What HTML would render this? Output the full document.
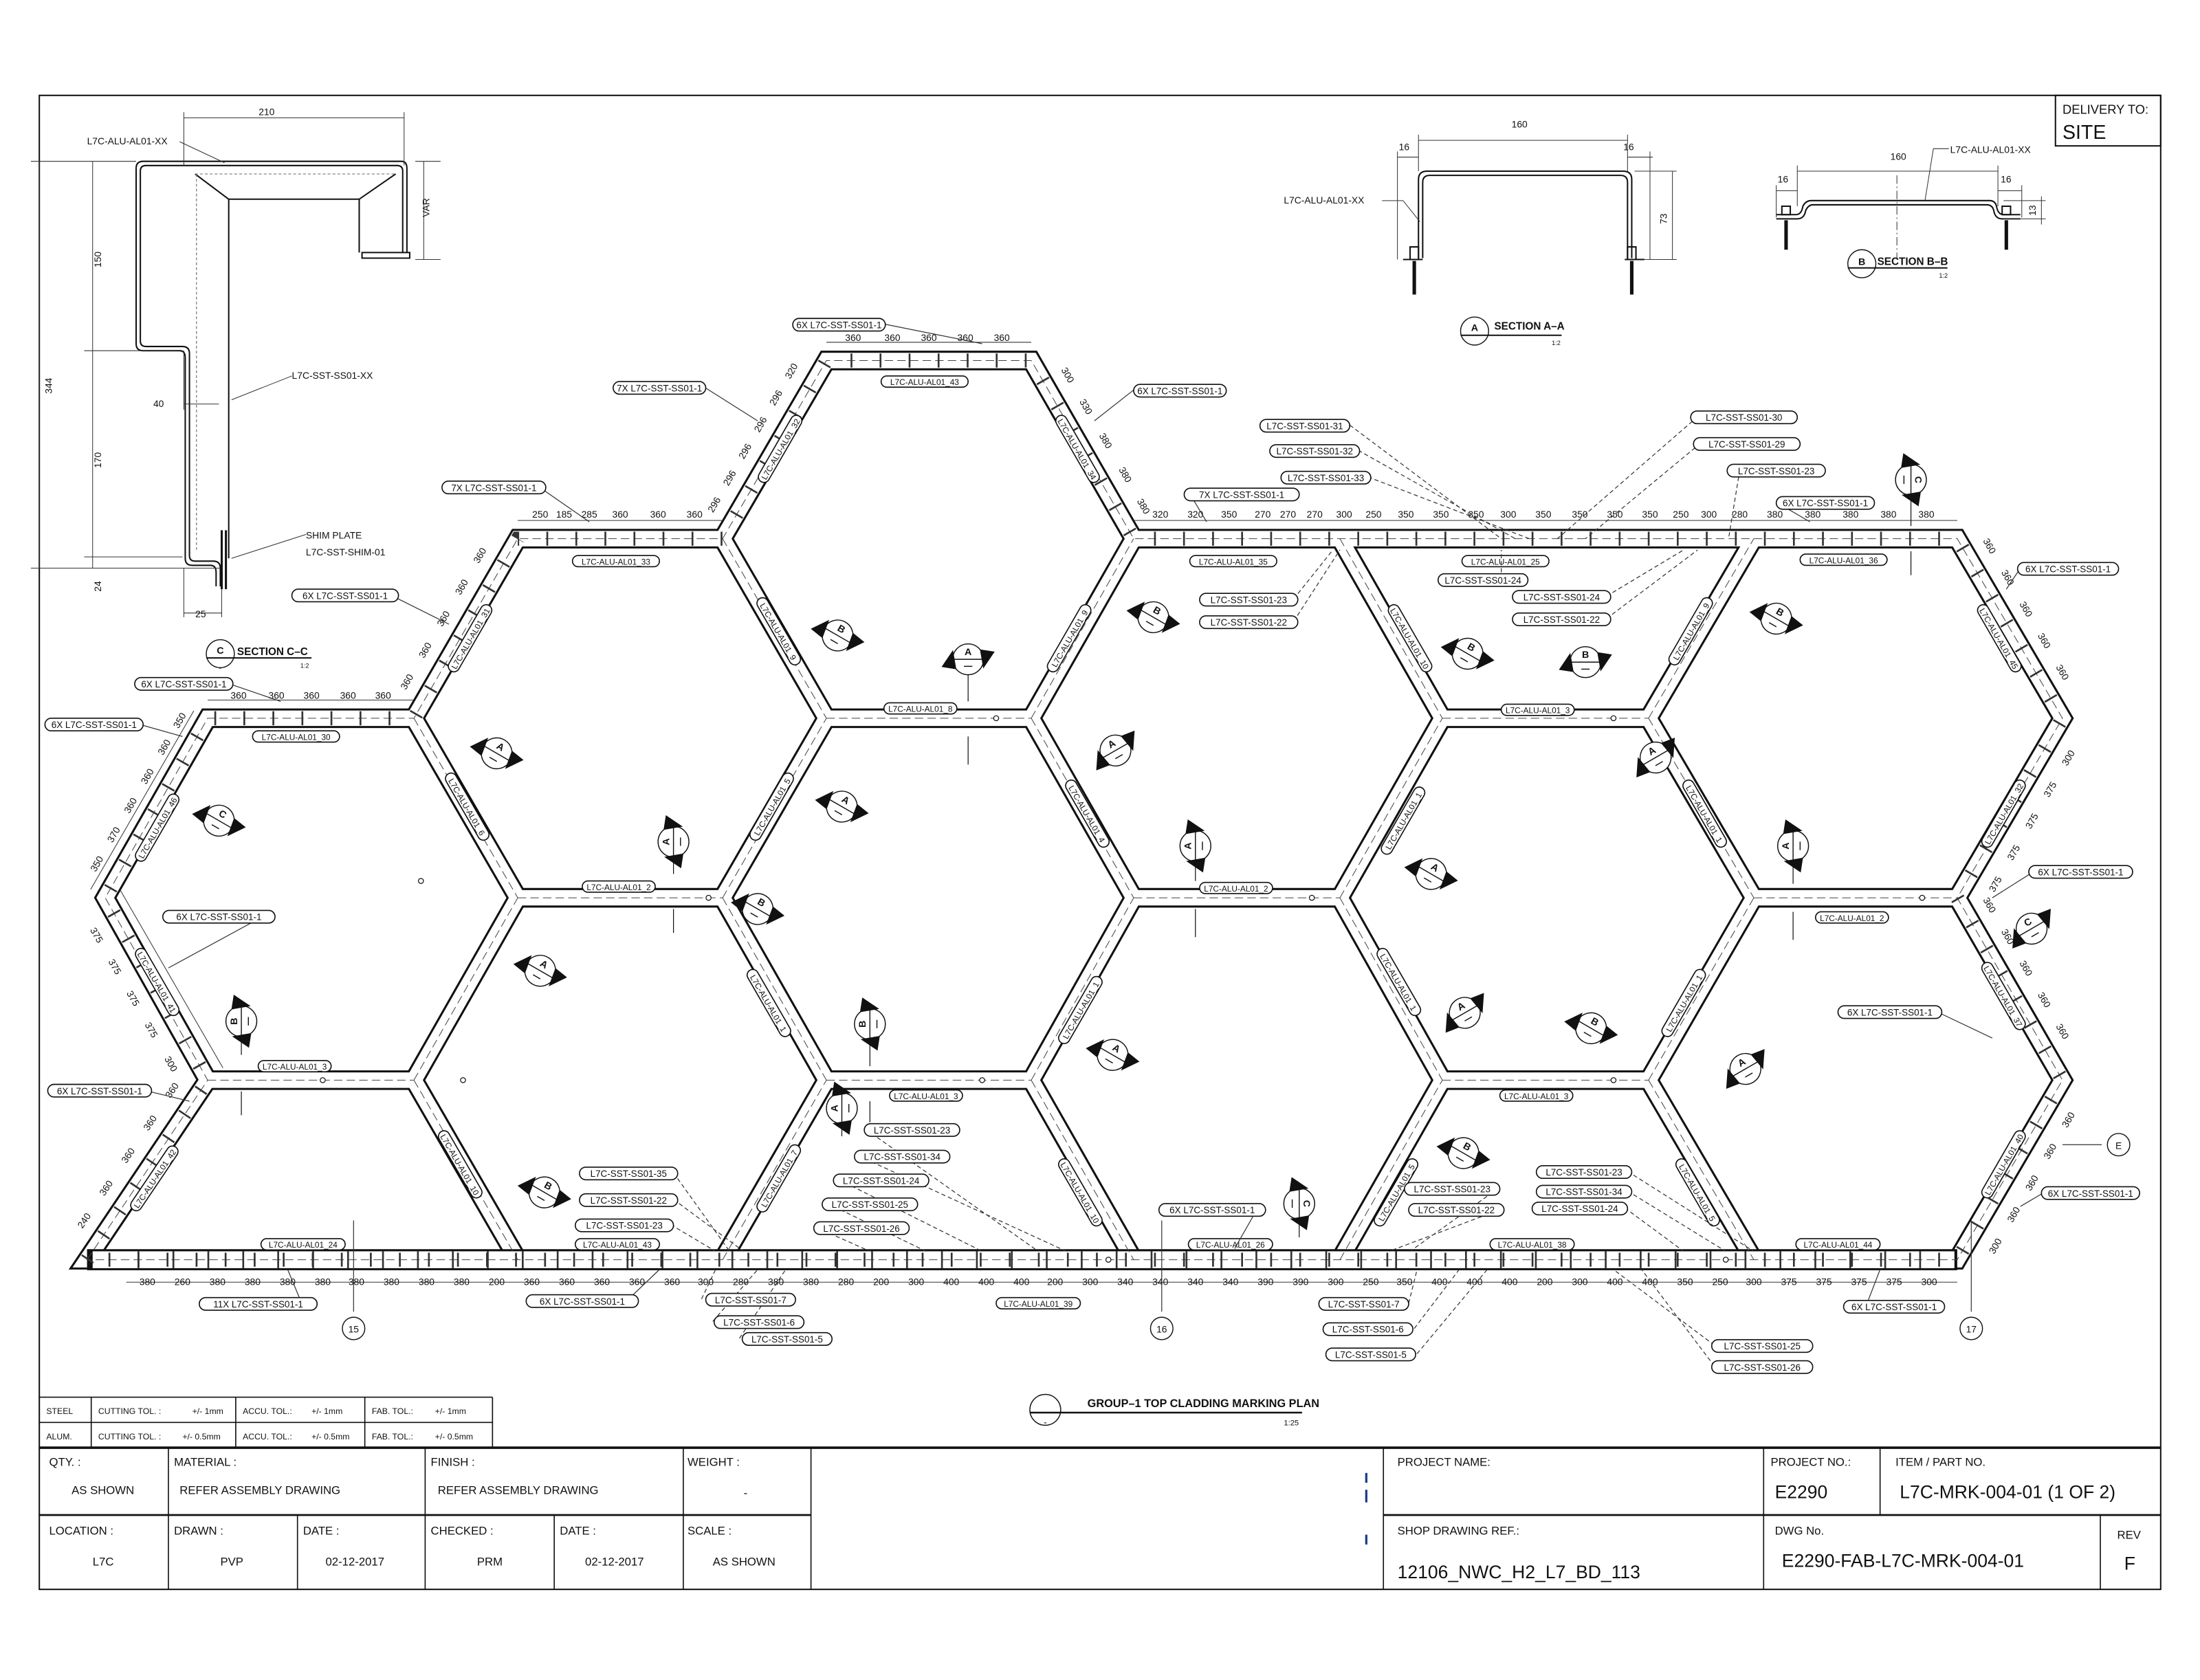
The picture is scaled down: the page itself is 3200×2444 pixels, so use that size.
<!DOCTYPE html>
<html><head><meta charset="utf-8"><style>
html,body{margin:0;padding:0;background:#fff}
svg{display:block}
text{font-family:"Liberation Sans",sans-serif;fill:#111}
.p{fill:#fff;stroke:#111;stroke-width:.8}
.t{font-size:6.6px}
.m{font-size:5.8px}
.d{font-size:6.8px}
.tb{font-size:8.2px}
.big{font-size:13px}
.ln{stroke:#111;fill:none}
.ld{stroke:#333;stroke-width:.6;fill:none;stroke-dasharray:3 2}
</style></head><body>
<svg width="3200" height="2444" viewBox="0 0 1568 1197.6" xmlns="http://www.w3.org/2000/svg">
<rect x="0" y="0" width="1568" height="1198" fill="#fff"/>
<rect x="28" y="68" width="1512" height="1065" fill="none" stroke="#111" stroke-width="1"/>
<rect x="1465" y="68" width="75" height="36" fill="none" stroke="#111" stroke-width="1"/>
<text x="1470" y="81" style="font-size:9px">DELIVERY TO:</text>
<text x="1470" y="99" style="font-size:14px">SITE</text>

<g id="net">
<path id="outer" d="M62,898 L148,770 L75,640 L148,512 L295,512 L369,384 L515,384 L589,257 L735,257 L808,384 L1395,384 L1470,512 L1395,640 L1470,770 L1395,898 Z" fill="none" stroke-linejoin="miter"/>
<path id="inner" d="M148,770 H295 M295,512 L369,640 M295,770 L369,640 M295,770 L369,898 M369,640 H515 M515,384 L589,512 M515,640 L589,512 M515,640 L589,770 M515,898 L589,770 M589,512 H735 M589,770 H735 M735,512 L808,384 M735,512 L808,640 M735,770 L808,640 M735,770 L808,898 M808,640 H955 M955,384 L1028,512 M955,640 L1028,512 M955,640 L1028,770 M955,898 L1028,770 M1028,512 H1175 M1028,770 H1175 M1175,512 L1250,384 M1175,512 L1250,640 M1175,770 L1250,640 M1175,770 L1250,898 M1250,640 H1395" fill="none"/>
</g>
<use href="#outer" stroke="#111" stroke-width="14"/>
<use href="#inner" stroke="#111" stroke-width="14"/>
<use href="#outer" stroke="#fff" stroke-width="11"/>
<use href="#inner" stroke="#fff" stroke-width="11"/>
<path d="M62,898 H1395" stroke="#111" stroke-width="15"/>
<path d="M66,898 H1393" stroke="#fff" stroke-width="12"/>
<use href="#outer" stroke="#444" stroke-width="0.5" stroke-dasharray="6 3" fill="none"/>
<use href="#inner" stroke="#444" stroke-width="0.5" stroke-dasharray="6 3" fill="none"/>
<use href="#outer" stroke="#333" stroke-width="10" stroke-dasharray="1.3 19.4" fill="none"/>
<path d="M98,898 H1392" stroke="#333" stroke-width="12" stroke-dasharray="1.3 23.6" fill="none"/>
<g fill="#fff" stroke="#111" stroke-width=".6">
<circle cx="230" cy="770" r="1.8"/><circle cx="505" cy="640" r="1.8"/><circle cx="710" cy="512" r="1.8"/><circle cx="935" cy="640" r="1.8"/><circle cx="1150" cy="512" r="1.8"/><circle cx="1370" cy="640" r="1.8"/><circle cx="700" cy="770" r="1.8"/><circle cx="1150" cy="770" r="1.8"/><circle cx="1230" cy="898" r="1.8"/><circle cx="790" cy="898" r="1.8"/><circle cx="330" cy="770" r="1.8"/><circle cx="300" cy="628" r="1.8"/>
</g>

<g stroke="#333" stroke-width=".5" fill="none">
<path d="M90,914 H1395"/>
<path d="M148,499 H295 M369,371 H515 M589,244 H735 M808,371 H1395"/>
</g>

<g class="d" text-anchor="middle">
<text x="385" y="369">250</text><text x="402" y="369">185</text><text x="420" y="369">285</text><text x="442" y="369">360</text><text x="469" y="369">360</text><text x="495" y="369">360</text>
<text x="608" y="243">360</text><text x="636" y="243">360</text><text x="662" y="243">360</text><text x="688" y="243">360</text><text x="714" y="243">360</text>
<text x="170" y="498">360</text><text x="197" y="498">360</text><text x="222" y="498">360</text><text x="248" y="498">360</text><text x="273" y="498">360</text>
<text x="827" y="369">320</text><text x="852" y="369">320</text><text x="876" y="369">350</text><text x="900" y="369">270</text><text x="918" y="369">270</text><text x="937" y="369">270</text><text x="958" y="369">300</text><text x="979" y="369">250</text><text x="1002" y="369">350</text><text x="1027" y="369">350</text><text x="1052" y="369">350</text><text x="1075" y="369">300</text><text x="1100" y="369">350</text><text x="1126" y="369">350</text><text x="1151" y="369">350</text><text x="1176" y="369">350</text><text x="1198" y="369">250</text><text x="1218" y="369">300</text><text x="1240" y="369">280</text><text x="1265" y="369">380</text><text x="1292" y="369">380</text><text x="1319" y="369">380</text><text x="1346" y="369">380</text><text x="1373" y="369">380</text>
</g>
<g class="d" text-anchor="middle">
<text x="105" y="916">380</text><text x="130" y="916">260</text><text x="155" y="916">380</text><text x="180" y="916">380</text><text x="205" y="916">380</text><text x="230" y="916">380</text><text x="254" y="916">380</text><text x="279" y="916">380</text><text x="304" y="916">380</text><text x="329" y="916">380</text><text x="354" y="916">200</text><text x="379" y="916">360</text><text x="404" y="916">360</text><text x="429" y="916">360</text><text x="454" y="916">360</text><text x="479" y="916">360</text><text x="503" y="916">300</text><text x="528" y="916">280</text><text x="553" y="916">380</text><text x="578" y="916">380</text><text x="603" y="916">280</text><text x="628" y="916">200</text><text x="653" y="916">300</text><text x="678" y="916">400</text><text x="703" y="916">400</text><text x="728" y="916">400</text><text x="752" y="916">200</text><text x="777" y="916">300</text><text x="802" y="916">340</text><text x="827" y="916">340</text><text x="852" y="916">340</text><text x="877" y="916">340</text><text x="902" y="916">390</text><text x="927" y="916">390</text><text x="952" y="916">300</text><text x="977" y="916">250</text><text x="1001" y="916">350</text><text x="1026" y="916">400</text><text x="1051" y="916">400</text><text x="1076" y="916">400</text><text x="1101" y="916">200</text><text x="1126" y="916">300</text><text x="1151" y="916">400</text><text x="1176" y="916">400</text><text x="1201" y="916">350</text><text x="1226" y="916">250</text><text x="1250" y="916">300</text><text x="1275" y="916">375</text><text x="1300" y="916">375</text><text x="1325" y="916">375</text><text x="1350" y="916">375</text><text x="1375" y="916">300</text>
</g>
<g class="d" text-anchor="middle">
<g transform="translate(75,640) rotate(-60)"><line x1="0" y1="-12" x2="147" y2="-12" stroke="#333" stroke-width=".5"/><text x="18" y="-15">350</text><text x="42" y="-15">370</text><text x="66" y="-15">360</text><text x="90" y="-15">360</text><text x="114" y="-15">360</text><text x="136" y="-15">350</text></g>
<g transform="translate(75,640) rotate(60)"><line x1="0" y1="-12" x2="147" y2="-12" stroke="#333" stroke-width=".5"/><text x="20" y="21">375</text><text x="46" y="21">375</text><text x="72" y="21">375</text><text x="98" y="21">375</text><text x="126" y="21">300</text></g>
<g transform="translate(62,898) rotate(-56)"><text x="22" y="-15">240</text><text x="50" y="-15">360</text><text x="78" y="-15">360</text><text x="106" y="-15">360</text><text x="134" y="-15">360</text></g>
<g transform="translate(295,512) rotate(-60)"><text x="20" y="-15">360</text><text x="46" y="-15">360</text><text x="72" y="-15">360</text><text x="98" y="-15">360</text><text x="124" y="-15">360</text></g>
<g transform="translate(515,384) rotate(-60)"><text x="18" y="-15">296</text><text x="40" y="-15">296</text><text x="62" y="-15">296</text><text x="84" y="-15">296</text><text x="106" y="-15">296</text><text x="128" y="-15">320</text></g>
<g transform="translate(735,257) rotate(60)"><text x="22" y="-15">300</text><text x="48" y="-15">330</text><text x="76" y="-15">380</text><text x="104" y="-15">380</text><text x="130" y="-15">380</text></g>
<g transform="translate(1395,384) rotate(60)"><text x="16" y="-15">360</text><text x="42" y="-15">360</text><text x="68" y="-15">360</text><text x="94" y="-15">360</text><text x="120" y="-15">360</text></g>
<g transform="translate(1395,640) rotate(-60)"><text x="22" y="21">375</text><text x="48" y="21">375</text><text x="74" y="21">375</text><text x="100" y="21">375</text><text x="126" y="21">300</text></g>
<g transform="translate(1395,640) rotate(60)"><text x="16" y="-15">360</text><text x="42" y="-15">360</text><text x="68" y="-15">360</text><text x="94" y="-15">360</text><text x="120" y="-15">360</text></g>
<g transform="translate(1395,898) rotate(-60)"><text x="22" y="21">300</text><text x="48" y="21">360</text><text x="74" y="21">360</text><text x="100" y="21">360</text><text x="126" y="21">360</text></g>
</g>

<g class="m" text-anchor="middle">
<g><rect class="p" x="628" y="268" width="62" height="8" rx="4"/><text x="659" y="274.5">L7C-ALU-AL01_43</text></g>
<g><rect class="p" x="408" y="396" width="62" height="8" rx="4"/><text x="439" y="402.5">L7C-ALU-AL01_33</text></g>
<g><rect class="p" x="848" y="396" width="62" height="8" rx="4"/><text x="879" y="402.5">L7C-ALU-AL01_35</text></g>
<g><rect class="p" x="1042" y="396" width="62" height="8" rx="4"/><text x="1073" y="402.5">L7C-ALU-AL01_25</text></g>
<g><rect class="p" x="1283" y="395" width="62" height="8" rx="4"/><text x="1314" y="401.5">L7C-ALU-AL01_36</text></g>
<g><rect class="p" x="180" y="521" width="62" height="8" rx="4"/><text x="211" y="527.5">L7C-ALU-AL01_30</text></g>
<g><rect class="p" x="630" y="501" width="52" height="8" rx="4"/><text x="656" y="507.5">L7C-ALU-AL01_8</text></g>
<g><rect class="p" x="1070" y="502" width="52" height="8" rx="4"/><text x="1096" y="508.5">L7C-ALU-AL01_3</text></g>
<g><rect class="p" x="415" y="628" width="52" height="8" rx="4"/><text x="441" y="634.5">L7C-ALU-AL01_2</text></g>
<g><rect class="p" x="855" y="629" width="52" height="8" rx="4"/><text x="881" y="635.5">L7C-ALU-AL01_2</text></g>
<g><rect class="p" x="1294" y="650" width="52" height="8" rx="4"/><text x="1320" y="656.5">L7C-ALU-AL01_2</text></g>
<g><rect class="p" x="184" y="756" width="52" height="8" rx="4"/><text x="210" y="762.5">L7C-ALU-AL01_3</text></g>
<g><rect class="p" x="634" y="777" width="52" height="8" rx="4"/><text x="660" y="783.5">L7C-ALU-AL01_3</text></g>
<g><rect class="p" x="1069" y="777" width="52" height="8" rx="4"/><text x="1095" y="783.5">L7C-ALU-AL01_3</text></g>
<g><rect class="p" x="186" y="883" width="60" height="8" rx="4"/><text x="216" y="889.5">L7C-ALU-AL01_24</text></g>
<g><rect class="p" x="410" y="883" width="60" height="8" rx="4"/><text x="440" y="889.5">L7C-ALU-AL01_43</text></g>
<g><rect class="p" x="847" y="883" width="60" height="8" rx="4"/><text x="877" y="889.5">L7C-ALU-AL01_26</text></g>
<g><rect class="p" x="1062" y="883" width="60" height="8" rx="4"/><text x="1092" y="889.5">L7C-ALU-AL01_38</text></g>
<g><rect class="p" x="1280" y="883" width="60" height="8" rx="4"/><text x="1310" y="889.5">L7C-ALU-AL01_44</text></g>
<g><rect class="p" x="710" y="925" width="60" height="8" rx="4"/><text x="740" y="931.5">L7C-ALU-AL01_39</text></g>
<g transform="translate(555,450) rotate(60)"><rect class="p" x="-27" y="-4" width="54" height="8" rx="4"/><text y="2.5">L7C-ALU-AL01_9</text></g>
<g transform="translate(762,455) rotate(-60)"><rect class="p" x="-27" y="-4" width="54" height="8" rx="4"/><text y="2.5">L7C-ALU-AL01_9</text></g>
<g transform="translate(333,575) rotate(60)"><rect class="p" x="-27" y="-4" width="54" height="8" rx="4"/><text y="2.5">L7C-ALU-AL01_6</text></g>
<g transform="translate(550,575) rotate(-60)"><rect class="p" x="-27" y="-4" width="54" height="8" rx="4"/><text y="2.5">L7C-ALU-AL01_5</text></g>
<g transform="translate(775,580) rotate(60)"><rect class="p" x="-27" y="-4" width="54" height="8" rx="4"/><text y="2.5">L7C-ALU-AL01_4</text></g>
<g transform="translate(1005,455) rotate(60)"><rect class="p" x="-27" y="-4" width="54" height="8" rx="4"/><text y="2.5">L7C-ALU-AL01_10</text></g>
<g transform="translate(1205,450) rotate(-60)"><rect class="p" x="-27" y="-4" width="54" height="8" rx="4"/><text y="2.5">L7C-ALU-AL01_9</text></g>
<g transform="translate(1000,585) rotate(-60)"><rect class="p" x="-27" y="-4" width="54" height="8" rx="4"/><text y="2.5">L7C-ALU-AL01_1</text></g>
<g transform="translate(1215,580) rotate(60)"><rect class="p" x="-27" y="-4" width="54" height="8" rx="4"/><text y="2.5">L7C-ALU-AL01_1</text></g>
<g transform="translate(548,715) rotate(60)"><rect class="p" x="-27" y="-4" width="54" height="8" rx="4"/><text y="2.5">L7C-ALU-AL01_1</text></g>
<g transform="translate(770,720) rotate(-60)"><rect class="p" x="-27" y="-4" width="54" height="8" rx="4"/><text y="2.5">L7C-ALU-AL01_1</text></g>
<g transform="translate(997,700) rotate(60)"><rect class="p" x="-27" y="-4" width="54" height="8" rx="4"/><text y="2.5">L7C-ALU-AL01_1</text></g>
<g transform="translate(1200,715) rotate(-60)"><rect class="p" x="-27" y="-4" width="54" height="8" rx="4"/><text y="2.5">L7C-ALU-AL01_1</text></g>
<g transform="translate(328,830) rotate(60)"><rect class="p" x="-27" y="-4" width="54" height="8" rx="4"/><text y="2.5">L7C-ALU-AL01_10</text></g>
<g transform="translate(555,840) rotate(-60)"><rect class="p" x="-27" y="-4" width="54" height="8" rx="4"/><text y="2.5">L7C-ALU-AL01_7</text></g>
<g transform="translate(770,850) rotate(60)"><rect class="p" x="-27" y="-4" width="54" height="8" rx="4"/><text y="2.5">L7C-ALU-AL01_10</text></g>
<g transform="translate(995,850) rotate(-60)"><rect class="p" x="-27" y="-4" width="54" height="8" rx="4"/><text y="2.5">L7C-ALU-AL01_5</text></g>
<g transform="translate(1210,850) rotate(60)"><rect class="p" x="-27" y="-4" width="54" height="8" rx="4"/><text y="2.5">L7C-ALU-AL01_5</text></g>
<g transform="translate(112,590) rotate(-60)"><rect class="p" x="-27" y="-4" width="54" height="8" rx="4"/><text y="2.5">L7C-ALU-AL01_46</text></g>
<g transform="translate(112,700) rotate(60)"><rect class="p" x="-27" y="-4" width="54" height="8" rx="4"/><text y="2.5">L7C-ALU-AL01_41</text></g>
<g transform="translate(110,840) rotate(-56)"><rect class="p" x="-27" y="-4" width="54" height="8" rx="4"/><text y="2.5">L7C-ALU-AL01_42</text></g>
<g transform="translate(335,455) rotate(-60)"><rect class="p" x="-27" y="-4" width="54" height="8" rx="4"/><text y="2.5">L7C-ALU-AL01_31</text></g>
<g transform="translate(556,320) rotate(-60)"><rect class="p" x="-27" y="-4" width="54" height="8" rx="4"/><text y="2.5">L7C-ALU-AL01_32</text></g>
<g transform="translate(768,320) rotate(60)"><rect class="p" x="-27" y="-4" width="54" height="8" rx="4"/><text y="2.5">L7C-ALU-AL01_34</text></g>
<g transform="translate(1425,455) rotate(60)"><rect class="p" x="-27" y="-4" width="54" height="8" rx="4"/><text y="2.5">L7C-ALU-AL01_45</text></g>
<g transform="translate(1428,580) rotate(-60)"><rect class="p" x="-27" y="-4" width="54" height="8" rx="4"/><text y="2.5">L7C-ALU-AL01_32</text></g>
<g transform="translate(1428,710) rotate(60)"><rect class="p" x="-27" y="-4" width="54" height="8" rx="4"/><text y="2.5">L7C-ALU-AL01_37</text></g>
<g transform="translate(1428,830) rotate(-60)"><rect class="p" x="-27" y="-4" width="54" height="8" rx="4"/><text y="2.5">L7C-ALU-AL01_40</text></g>
</g>

<g class="ld">
<path d="M962,303 L1070,384 M968,321 L1080,384 M975,340 L1090,384 M1210,297 L1110,384 M1212,316 L1130,384 M1240,335 L1232,384 M1070,413 L1070,392 M922,427 L950,392 M922,443 L955,392 M1145,425 L1200,392 M1145,441 L1210,392"/>
<path d="M480,836 L520,892 M480,855 L530,892 M478,873 L510,892 M617,805 L740,892 M612,824 L760,892 M598,841 L700,892 M590,858 L660,892 M582,875 L620,892 M1068,847 L1005,892 M1070,862 L990,892 M1160,835 L1250,892 M1160,849 L1230,892 M1158,861 L1200,892 M1004,929 L1010,905 M1008,947 L1040,905 M1010,965 L1060,905 M1222,959 L1150,905 M1222,974 L1170,905 M500,926 L510,905 M508,942 L540,905 M527,954 L560,905"/>
</g>
<g stroke="#333" stroke-width=".6" fill="none">
<path d="M630,231 L700,245 M502,276 L540,300 M808,278 L780,300 M384,347 L420,372 M848,352 L860,372 M1266,358 L1290,372 M278,424 L320,445 M162,487 L200,500 M98,516 L130,525 M188,653 L120,690 M102,777 L135,785 M1440,405 L1430,420 M1450,621 L1420,640 M1380,721 L1420,740 M1457,850 L1440,860 M215,929 L205,905 M447,927 L470,905 M896,862 L880,890 M1330,931 L1340,905 M1498,816 L1470,816"/>
<path d="M252,935 V870 M828,935 V870 M1405,935 V870"/>
</g>

<g class="t" text-anchor="middle">
<g><rect class="p" x="565" y="227" width="66" height="9" rx="4.5"/><text x="598" y="234">6X L7C-SST-SS01-1</text></g>
<g><rect class="p" x="437" y="272" width="66" height="9" rx="4.5"/><text x="470" y="279">7X L7C-SST-SS01-1</text></g>
<g><rect class="p" x="808" y="274" width="66" height="9" rx="4.5"/><text x="841" y="281">6X L7C-SST-SS01-1</text></g>
<g><rect class="p" x="315" y="343" width="74" height="9" rx="4.5"/><text x="352" y="350">7X L7C-SST-SS01-1</text></g>
<g><rect class="p" x="898" y="299" width="64" height="9" rx="4.5"/><text x="930" y="306">L7C-SST-SS01-31</text></g>
<g><rect class="p" x="905" y="317" width="64" height="9" rx="4.5"/><text x="937" y="324">L7C-SST-SS01-32</text></g>
<g><rect class="p" x="913" y="336" width="64" height="9" rx="4.5"/><text x="945" y="343">L7C-SST-SS01-33</text></g>
<g><rect class="p" x="844" y="348" width="82" height="9" rx="4.5"/><text x="885" y="355">7X L7C-SST-SS01-1</text></g>
<g><rect class="p" x="1205" y="293" width="76" height="9" rx="4.5"/><text x="1243" y="300">L7C-SST-SS01-30</text></g>
<g><rect class="p" x="1207" y="312" width="76" height="9" rx="4.5"/><text x="1245" y="319">L7C-SST-SS01-29</text></g>
<g><rect class="p" x="1231" y="331" width="70" height="9" rx="4.5"/><text x="1266" y="338">L7C-SST-SS01-23</text></g>
<g><rect class="p" x="1266" y="354" width="70" height="9" rx="4.5"/><text x="1301" y="361">6X L7C-SST-SS01-1</text></g>
<g><rect class="p" x="1025" y="409" width="64" height="9" rx="4.5"/><text x="1057" y="416">L7C-SST-SS01-24</text></g>
<g><rect class="p" x="855" y="423" width="70" height="9" rx="4.5"/><text x="890" y="430">L7C-SST-SS01-23</text></g>
<g><rect class="p" x="855" y="439" width="70" height="9" rx="4.5"/><text x="890" y="446">L7C-SST-SS01-22</text></g>
<g><rect class="p" x="1078" y="421" width="70" height="9" rx="4.5"/><text x="1113" y="428">L7C-SST-SS01-24</text></g>
<g><rect class="p" x="1078" y="437" width="70" height="9" rx="4.5"/><text x="1113" y="444">L7C-SST-SS01-22</text></g>
<g><rect class="p" x="208" y="420" width="76" height="9" rx="4.5"/><text x="246" y="427">6X L7C-SST-SS01-1</text></g>
<g><rect class="p" x="96" y="483" width="70" height="9" rx="4.5"/><text x="131" y="490">6X L7C-SST-SS01-1</text></g>
<g><rect class="p" x="32" y="512" width="70" height="9" rx="4.5"/><text x="67" y="519">6X L7C-SST-SS01-1</text></g>
<g><rect class="p" x="116" y="649" width="80" height="9" rx="4.5"/><text x="156" y="656">6X L7C-SST-SS01-1</text></g>
<g><rect class="p" x="34" y="773" width="74" height="9" rx="4.5"/><text x="71" y="780">6X L7C-SST-SS01-1</text></g>
<g><rect class="p" x="1438" y="401" width="72" height="9" rx="4.5"/><text x="1474" y="408">6X L7C-SST-SS01-1</text></g>
<g><rect class="p" x="1446" y="617" width="74" height="9" rx="4.5"/><text x="1483" y="624">6X L7C-SST-SS01-1</text></g>
<g><rect class="p" x="1310" y="717" width="74" height="9" rx="4.5"/><text x="1347" y="724">6X L7C-SST-SS01-1</text></g>
<g><rect class="p" x="1455" y="846" width="70" height="9" rx="4.5"/><text x="1490" y="853">6X L7C-SST-SS01-1</text></g>
<g><rect class="p" x="142" y="925" width="84" height="9" rx="4.5"/><text x="184" y="932">11X L7C-SST-SS01-1</text></g>
<g><rect class="p" x="375" y="923" width="80" height="9" rx="4.5"/><text x="415" y="930">6X L7C-SST-SS01-1</text></g>
<g><rect class="p" x="826" y="858" width="76" height="9" rx="4.5"/><text x="864" y="865">6X L7C-SST-SS01-1</text></g>
<g><rect class="p" x="1314" y="927" width="72" height="9" rx="4.5"/><text x="1350" y="934">6X L7C-SST-SS01-1</text></g>
<g><rect class="p" x="413" y="832" width="70" height="9" rx="4.5"/><text x="448" y="839">L7C-SST-SS01-35</text></g>
<g><rect class="p" x="413" y="851" width="70" height="9" rx="4.5"/><text x="448" y="858">L7C-SST-SS01-22</text></g>
<g><rect class="p" x="410" y="869" width="70" height="9" rx="4.5"/><text x="445" y="876">L7C-SST-SS01-23</text></g>
<g><rect class="p" x="616" y="801" width="68" height="9" rx="4.5"/><text x="650" y="808">L7C-SST-SS01-23</text></g>
<g><rect class="p" x="609" y="820" width="68" height="9" rx="4.5"/><text x="643" y="827">L7C-SST-SS01-34</text></g>
<g><rect class="p" x="594" y="837" width="68" height="9" rx="4.5"/><text x="628" y="844">L7C-SST-SS01-24</text></g>
<g><rect class="p" x="586" y="854" width="68" height="9" rx="4.5"/><text x="620" y="861">L7C-SST-SS01-25</text></g>
<g><rect class="p" x="580" y="871" width="68" height="9" rx="4.5"/><text x="614" y="878">L7C-SST-SS01-26</text></g>
<g><rect class="p" x="503" y="922" width="64" height="9" rx="4.5"/><text x="535" y="929">L7C-SST-SS01-7</text></g>
<g><rect class="p" x="509" y="938" width="64" height="9" rx="4.5"/><text x="541" y="945">L7C-SST-SS01-6</text></g>
<g><rect class="p" x="529" y="950" width="64" height="9" rx="4.5"/><text x="561" y="957">L7C-SST-SS01-5</text></g>
<g><rect class="p" x="1001" y="843" width="68" height="9" rx="4.5"/><text x="1035" y="850">L7C-SST-SS01-23</text></g>
<g><rect class="p" x="1004" y="858" width="68" height="9" rx="4.5"/><text x="1038" y="865">L7C-SST-SS01-22</text></g>
<g><rect class="p" x="1095" y="831" width="68" height="9" rx="4.5"/><text x="1129" y="838">L7C-SST-SS01-23</text></g>
<g><rect class="p" x="1095" y="845" width="68" height="9" rx="4.5"/><text x="1129" y="852">L7C-SST-SS01-34</text></g>
<g><rect class="p" x="1092" y="857" width="68" height="9" rx="4.5"/><text x="1126" y="864">L7C-SST-SS01-24</text></g>
<g><rect class="p" x="940" y="925" width="64" height="9" rx="4.5"/><text x="972" y="932">L7C-SST-SS01-7</text></g>
<g><rect class="p" x="943" y="943" width="64" height="9" rx="4.5"/><text x="975" y="950">L7C-SST-SS01-6</text></g>
<g><rect class="p" x="945" y="961" width="64" height="9" rx="4.5"/><text x="977" y="968">L7C-SST-SS01-5</text></g>
<g><rect class="p" x="1220" y="955" width="72" height="9" rx="4.5"/><text x="1256" y="962">L7C-SST-SS01-25</text></g>
<g><rect class="p" x="1220" y="970" width="72" height="9" rx="4.5"/><text x="1256" y="977">L7C-SST-SS01-26</text></g>
</g>

<g fill="#fff" stroke="#111" stroke-width=".7">
<circle cx="252" cy="947" r="8"/><circle cx="828" cy="947" r="8"/><circle cx="1405" cy="947" r="8"/><circle cx="1510" cy="816" r="8"/>
</g>
<g class="d" text-anchor="middle"><text x="252" y="950">15</text><text x="828" y="950">16</text><text x="1405" y="950">17</text><text x="1510" y="819">E</text></g>

<defs>
<g id="sm"><circle r="11" fill="#fff" stroke="#111" stroke-width=".7"/><line x1="-11" y1="0" x2="11" y2="0" stroke="#111" stroke-width=".7"/><path d="M-11,0 L-18,-8 L-4,-12 Z M11,0 L18,8 L4,12 Z" fill="#111" transform="rotate(-40)"/><line x1="-3" y1="5" x2="3" y2="5" stroke="#111" stroke-width=".7"/></g>
</defs>
<g font-size="7" font-weight="bold" text-anchor="middle">
<g transform="translate(597,453) rotate(30)"><use href="#sm"/><text y="-3">B</text></g>
<g transform="translate(690,470) rotate(0)"><use href="#sm"/><text y="-3">A</text></g>
<g transform="translate(822,440) rotate(30)"><use href="#sm"/><text y="-3">B</text></g>
<g transform="translate(1046,466) rotate(30)"><use href="#sm"/><text y="-3">B</text></g>
<g transform="translate(1130,472) rotate(0)"><use href="#sm"/><text y="-3">B</text></g>
<g transform="translate(1266,441) rotate(30)"><use href="#sm"/><text y="-3">B</text></g>
<g transform="translate(354,537) rotate(30)"><use href="#sm"/><text y="-3">A</text></g>
<g transform="translate(156,585) rotate(30)"><use href="#sm"/><text y="-3">C</text></g>
<g transform="translate(480,600) rotate(-90)"><use href="#sm"/><text y="-3">A</text></g>
<g transform="translate(600,575) rotate(30)"><use href="#sm"/><text y="-3">A</text></g>
<g transform="translate(795,535) rotate(-30)"><use href="#sm"/><text y="-3">A</text></g>
<g transform="translate(852,603) rotate(-90)"><use href="#sm"/><text y="-3">A</text></g>
<g transform="translate(1278,603) rotate(-90)"><use href="#sm"/><text y="-3">A</text></g>
<g transform="translate(1020,623) rotate(30)"><use href="#sm"/><text y="-3">A</text></g>
<g transform="translate(1180,540) rotate(-30)"><use href="#sm"/><text y="-3">A</text></g>
<g transform="translate(540,648) rotate(30)"><use href="#sm"/><text y="-3">B</text></g>
<g transform="translate(385,692) rotate(30)"><use href="#sm"/><text y="-3">A</text></g>
<g transform="translate(172,728) rotate(-90)"><use href="#sm"/><text y="-3">B</text></g>
<g transform="translate(620,730) rotate(-90)"><use href="#sm"/><text y="-3">B</text></g>
<g transform="translate(793,752) rotate(30)"><use href="#sm"/><text y="-3">A</text></g>
<g transform="translate(1044,722) rotate(-30)"><use href="#sm"/><text y="-3">A</text></g>
<g transform="translate(1134,733) rotate(30)"><use href="#sm"/><text y="-3">B</text></g>
<g transform="translate(1244,762) rotate(-30)"><use href="#sm"/><text y="-3">A</text></g>
<g transform="translate(1448,662) rotate(-30)"><use href="#sm"/><text y="-3">C</text></g>
<g transform="translate(600,790) rotate(-90)"><use href="#sm"/><text y="-3">A</text></g>
<g transform="translate(388,850) rotate(30)"><use href="#sm"/><text y="-3">B</text></g>
<g transform="translate(926,858) rotate(90)"><use href="#sm"/><text y="-3">C</text></g>
<g transform="translate(1043,822) rotate(30)"><use href="#sm"/><text y="-3">B</text></g>
<g transform="translate(1362,342) rotate(90)"><use href="#sm"/><text y="-3">C</text></g>
</g>
<g stroke="#111" stroke-width=".6" fill="none">
<path d="M690,481 V500 M690,525 V545 M852,614 V628 M852,648 V668 M480,611 V623 M480,648 V665 M1278,614 V630 M1278,650 V670 M620,741 V760 M620,785 V800 M172,739 V752 M172,778 V795 M600,801 V810 M1362,353 V375 M1362,393 V410 M926,869 V882"/>
</g>

<g class="ln" stroke-width="1">
<path d="M97,120 Q97,115 102,115 H286 Q290,115 290,120 V180"/>
<path d="M100,122 Q100,118 104,118 H283 Q287,118 287,122 V180"/>
<path d="M97,120 V245 Q97,250 102,250 H128 Q132,250 132,255 V398 Q132,403 137,403 H150 Q154,403 154,408 V418"/>
<path d="M100,122 V243 Q100,247 104,247 H130 Q135,247 135,252 V396 Q135,400 139,400 H152 Q157,400 157,405 V418"/>
<path d="M139,124 L163,142 M163,142 H256 L282,124 M163,142 V398 M256,142 V180 M258,180 H292 V184 H258 Z"/>
<path d="M158,378 V420 M161,378 V420" stroke-width="1.5"/>
</g>
<path d="M139,124 H282 M140,124 V393" stroke="#777" stroke-width=".6" stroke-dasharray="2 1.5" fill="none"/>
<g stroke="#333" stroke-width=".5" fill="none">
<path d="M131,84 H288 M131,80 V118 M288,80 V118 M28,115 V405 M22,115 H97 M22,405 H157 M66,115 V405 M60,115 H97 M60,250 H128 M60,397 H130 M131,288 H156 M131,250 V292 M131,437 H158 M131,405 V440 M158,420 V440 M302,115 V185 M296,185 H314 M296,115 H314"/>
<path d="M128,101 L160,116 M208,268 L165,285 M218,381 L165,398"/>
</g>
<g class="d">
<text x="190" y="82" text-anchor="middle">210</text>
<text x="62" y="103">L7C-ALU-AL01-XX</text>
<text x="208" y="270">L7C-SST-SS01-XX</text>
<text x="218" y="384">SHIM PLATE</text>
<text x="218" y="396">L7C-SST-SHIM-01</text>
<text x="113" y="290" text-anchor="middle">40</text>
<text x="143" y="440" text-anchor="middle">25</text>
<text transform="translate(37,275) rotate(-90)" text-anchor="middle">344</text>
<text transform="translate(72,185) rotate(-90)" text-anchor="middle">150</text>
<text transform="translate(72,328) rotate(-90)" text-anchor="middle">170</text>
<text transform="translate(72,418) rotate(-90)" text-anchor="middle">24</text>
<text transform="translate(306,148) rotate(-90)" text-anchor="middle">VAR</text>
</g>
<g><circle cx="157" cy="466" r="10" fill="#fff" stroke="#111" stroke-width=".7"/><line x1="147" y1="469" x2="222" y2="469" stroke="#111" stroke-width="1"/><text x="157" y="466" text-anchor="middle" style="font-size:7px;font-weight:bold">C</text><text x="157" y="478" text-anchor="middle" class="d">-</text><text x="169" y="467" style="font-size:7.5px;font-weight:bold">SECTION  C–C</text><text x="214" y="476" style="font-size:4.5px">1:2</text></g>

<g class="ln" stroke-width="1">
<path d="M1011,184 V128 Q1011,122 1017,122 H1157 Q1163,122 1163,128 V184"/>
<path d="M1014,184 V130 Q1014,125 1019,125 H1155 Q1160,125 1160,130 V184"/>
<path d="M1000,185 H1014 M1158,185 H1172"/>
<path d="M1005,176 h6 v9 h-6z M1160,176 h6 v9 h-6z"/>
<path d="M1008,186 V210 M1163,186 V210" stroke-width="2.5"/>
</g>
<g stroke="#333" stroke-width=".5" fill="none">
<path d="M1011,100 H1160 M1011,96 V122 M1160,96 V122 M996,112 H1011 M1160,112 H1178 M996,108 V185 M1176,108 V185 M1165,122 H1195 M1172,185 H1195 M1192,122 V185 M985,143 H1000 L1012,158"/>
</g>
<g class="d"><text x="1083" y="91" text-anchor="middle">160</text><text x="997" y="107">16</text><text x="1157" y="107">16</text><text x="915" y="145">L7C-ALU-AL01-XX</text><text transform="translate(1188,156) rotate(-90)" text-anchor="middle">73</text></g>
<g><circle cx="1051" cy="236" r="10" fill="#fff" stroke="#111" stroke-width=".7"/><line x1="1041" y1="239" x2="1113" y2="239" stroke="#111" stroke-width="1"/><text x="1051" y="236" text-anchor="middle" style="font-size:7px;font-weight:bold">A</text><text x="1065" y="235" style="font-size:7.5px;font-weight:bold">SECTION  A–A</text><text x="1106" y="246" style="font-size:4.5px">1:2</text></g>

<g class="ln" stroke-width="1">
<path d="M1266,153 H1280 Q1284,153 1285,147 Q1287,143 1291,143 H1418 Q1422,143 1423,147 Q1424,153 1428,153 H1440"/>
<path d="M1266,156 H1281 Q1286,156 1287,150 Q1289,146 1292,146 H1416 Q1420,146 1421,150 Q1422,156 1427,156 H1440"/>
<path d="M1270,147 h6 v6 h-6z M1427,147 h6 v6 h-6z"/>
<path d="M1273,157 V178 M1430,157 V178" stroke-width="2.5"/>
</g>
<g stroke="#333" stroke-width=".5" fill="none">
<path d="M1281,122 H1424 M1281,118 V147 M1424,118 V147 M1266,136 H1281 M1424,136 H1441 M1266,132 V155 M1441,132 V155 M1428,143 H1458 M1428,156 H1458 M1455,140 V160 M1389,106 H1378 L1372,143"/>
<path d="M1352,125 V185" stroke-dasharray="6 2 1 2"/>
</g>
<g class="d"><text x="1353" y="114" text-anchor="middle">160</text><text x="1267" y="130">16</text><text x="1426" y="130">16</text><text x="1390" y="109">L7C-ALU-AL01-XX</text><text transform="translate(1451,150) rotate(-90)" text-anchor="middle">13</text></g>
<g><circle cx="1327" cy="188" r="10" fill="#fff" stroke="#111" stroke-width=".7"/><line x1="1317" y1="191" x2="1388" y2="191" stroke="#111" stroke-width="1"/><text x="1327" y="189" text-anchor="middle" style="font-size:7px;font-weight:bold">B</text><text x="1338" y="189" style="font-size:7.5px;font-weight:bold">SECTION  B–B</text><text x="1382" y="198" style="font-size:4.5px">1:2</text></g>

<g><circle cx="745" cy="1005" r="11" fill="#fff" stroke="#111" stroke-width=".7"/><line x1="734" y1="1007" x2="928" y2="1007" stroke="#111" stroke-width="1.2"/><text x="745" y="1016" text-anchor="middle" class="d">-</text><text x="775" y="1003" style="font-size:8px;font-weight:bold">GROUP–1  TOP  CLADDING  MARKING  PLAN</text><text x="915" y="1016" style="font-size:5.5px">1:25</text></g>

<g stroke="#111" fill="none" stroke-width=".8">
<path d="M28,996 H351 M28,1014 H351 M65,996 V1032 M168,996 V1032 M260,996 V1032 M351,996 V1032"/>
</g>
<g style="font-size:6px">
<text x="33" y="1008">STEEL</text><text x="70" y="1008">CUTTING TOL. :</text><text x="137" y="1008">+/- 1mm</text><text x="173" y="1008">ACCU. TOL.:</text><text x="222" y="1008">+/- 1mm</text><text x="265" y="1008">FAB. TOL.:</text><text x="310" y="1008">+/- 1mm</text>
<text x="33" y="1026">ALUM.</text><text x="70" y="1026">CUTTING TOL. :</text><text x="130" y="1026">+/- 0.5mm</text><text x="173" y="1026">ACCU. TOL.:</text><text x="222" y="1026">+/- 0.5mm</text><text x="265" y="1026">FAB. TOL.:</text><text x="310" y="1026">+/- 0.5mm</text>
</g>

<g stroke="#111" fill="none">
<path d="M28,1032 H1540" stroke-width="1.8"/>
<path d="M28,1080 H578 M986,1080 H1540" stroke-width="1.3"/>
<path d="M120,1032 V1133 M303,1032 V1133 M487,1032 V1133 M578,1032 V1133 M212,1080 V1133 M395,1080 V1133 M986,1032 V1133 M1257,1032 V1133 M1340,1032 V1080 M1497,1080 V1133" stroke-width=".8"/>
</g>
<g fill="#1a3f8a"><rect x="973" y="1050" width="1.6" height="7"/><rect x="973" y="1062" width="1.6" height="9"/><rect x="973" y="1094" width="1.6" height="7"/></g>
<g class="tb">
<text x="35" y="1045">QTY. :</text><text x="51" y="1065">AS SHOWN</text>
<text x="124" y="1045">MATERIAL :</text><text x="128" y="1065">REFER ASSEMBLY DRAWING</text>
<text x="307" y="1045">FINISH :</text><text x="312" y="1065">REFER ASSEMBLY DRAWING</text>
<text x="490" y="1045">WEIGHT :</text><text x="530" y="1067">-</text>
<text x="35" y="1094">LOCATION :</text><text x="66" y="1116">L7C</text>
<text x="124" y="1094">DRAWN :</text><text x="157" y="1116">PVP</text>
<text x="216" y="1094">DATE :</text><text x="232" y="1116">02-12-2017</text>
<text x="307" y="1094">CHECKED :</text><text x="340" y="1116">PRM</text>
<text x="399" y="1094">DATE :</text><text x="417" y="1116">02-12-2017</text>
<text x="490" y="1094">SCALE :</text><text x="508" y="1116">AS SHOWN</text>
<text x="996" y="1045">PROJECT NAME:</text>
<text x="1262" y="1045">PROJECT NO.:</text>
<text x="1351" y="1045">ITEM / PART NO.</text>
<text x="996" y="1094">SHOP DRAWING REF.:</text>
<text x="1265" y="1094">DWG No.</text>
<text x="1509" y="1097">REV</text>
</g>
<g class="big">
<text x="1265" y="1068">E2290</text>
<text x="1354" y="1068">L7C-MRK-004-01 (1 OF 2)</text>
<text x="996" y="1125">12106_NWC_H2_L7_BD_113</text>
<text x="1270" y="1117">E2290-FAB-L7C-MRK-004-01</text>
<text x="1514" y="1119">F</text>
</g>
</svg>
</body></html>
